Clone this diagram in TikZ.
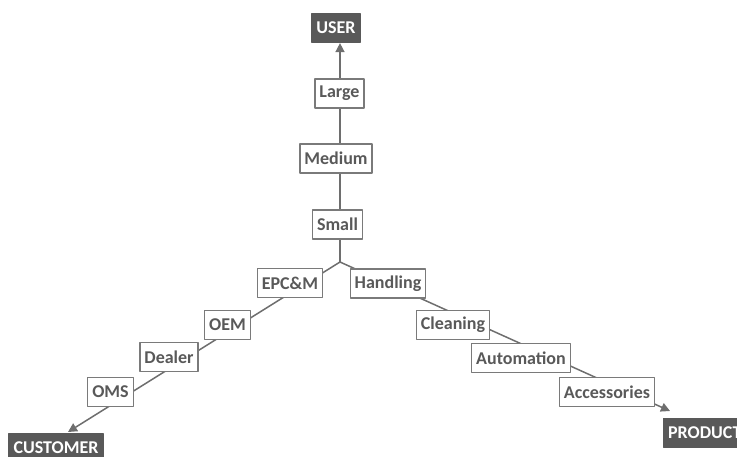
\documentclass[tikz,border=0pt]{standalone}
\usepackage{fontspec}
\setmainfont{Carlito}
\usetikzlibrary{arrows.meta,backgrounds}
\definecolor{boxtext}{HTML}{595959}
\definecolor{boxline}{HTML}{7A7A7A}
\definecolor{axisfill}{HTML}{595959}
\definecolor{linkgray}{HTML}{6E6E6E}

\begin{document}
\begin{tikzpicture}[line cap=round,line join=round,x=1pt,y=-1pt]
\tikzset{>={Triangle[length=9pt,width=9pt]}}
\tikzset{
  level/.style={draw=boxline, fill=white, line width=1.2pt, text=boxtext,
    font=\bfseries\fontsize{18}{20}\selectfont, inner xsep=4.5pt, inner ysep=0pt,
    minimum height=29pt},
  axisbox/.style={level, draw=axisfill, fill=axisfill, text=white},
  link/.style={draw=linkgray, line width=1.5pt}
}
\useasboundingbox (0,0) rectangle (737,456);

% user axis
\node[axisbox] (user) at (336,28) {USER};
\node[level] (large) at (339.5,93.5) {Large};
\node[level] (medium) at (336,158.5) {Medium};
\node[level] (small) at (337.5,224.5) {Small};

% customer axis
\node[level] (epcm) at (290,283) {EPC\&M};
\node[level] (oem) at (227.5,325) {OEM};
\node[level] (dealer) at (169,357) {Dealer};
\node[level] (oms) at (110.5,392) {OMS};
\node[axisbox] (customer) at (56,448) {CUSTOMER};

% product axis
\node[level] (handling) at (388,283.5) {Handling};
\node[level] (cleaning) at (453,325) {Cleaning};
\node[level] (automation) at (521,358) {Automation};
\node[level] (accessories) at (607,392) {Accessories};
\node[axisbox, anchor=west] (product) at (663,433) {PRODUCT};

\coordinate (hub) at (340,262);
\coordinate (custtip) at (68,432);
\coordinate (prodtip) at (670,411);

\begin{scope}[on background layer]
\draw[link,->] (hub) -- (hub |- user.south);
\draw[link,->] (hub) -- (custtip);
\draw[link,->] (hub) -- (prodtip);
\end{scope}

\end{tikzpicture}
\end{document}
